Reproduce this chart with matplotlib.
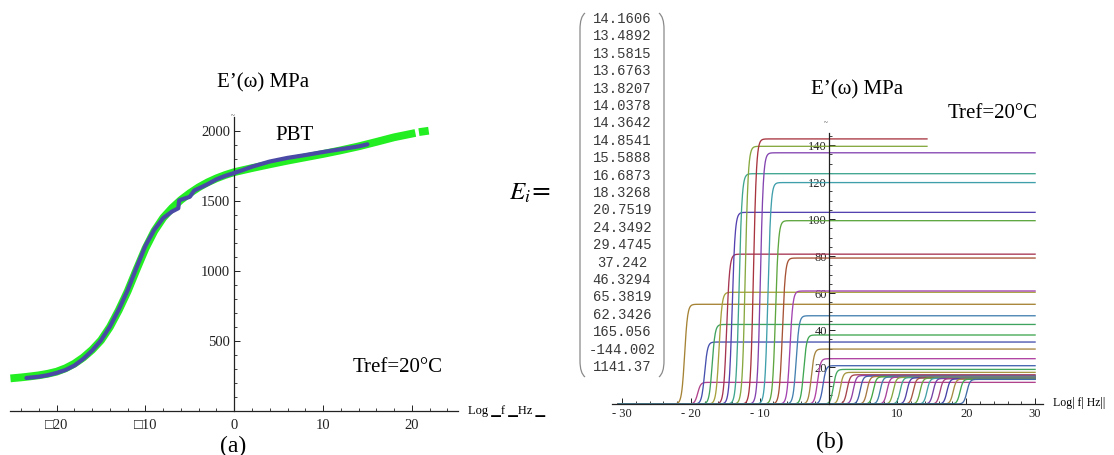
import numpy as np
import matplotlib
matplotlib.use("Agg")
import matplotlib.pyplot as plt
from matplotlib.path import Path
from matplotlib.patches import PathPatch
import colorsys

# ---------------- data: panel (a) ----------------
green_x = [-25.2, -24, -23, -22, -21, -20, -19, -18, -17, -16, -15, -14, -13, -12, -11, -10,
           -9, -8, -7, -6, -5, -4, -3, -2, -1, 0, 2, 4, 6, 8, 10, 12, 14, 16, 18, 20.4,
           np.nan, 20.8, 21.9]
green_y = [233, 240, 247, 255, 266, 281, 305, 338, 382, 437, 505, 600, 720, 855, 1010, 1160,
           1285, 1380, 1450, 1508, 1556, 1598, 1633, 1662, 1686, 1706, 1735, 1762, 1788, 1812,
           1836, 1862, 1890, 1922, 1955, 1986, np.nan, 1992, 2002]

blue_x = [-23.4, -22, -21, -20, -19, -18, -17, -16, -15, -14, -13, -12, -11, -10, -9, -8,
          -7, -6.3, -6.2, -5, -4.5, -4, -3, -2, -1, 0, 1, 2, 4, 6, 8, 10, 12, 14, 15]
blue_y = [236, 245, 256, 272, 293, 325, 372, 432, 505, 603, 725, 862, 1025, 1180, 1295, 1378,
          1425, 1448, 1505, 1530, 1575, 1590, 1620, 1655, 1680, 1700, 1722, 1745, 1782, 1808,
          1828, 1850, 1870, 1890, 1905]

a_xticks = [-20, -10, 0, 10, 20]
a_xlabels = ["\u25a120", "\u25a110", "0", "10", "20"]
a_yticks = [500, 1000, 1500, 2000]
a_ylabels = ["500", "1000", "1500", "2000"]

# ---------------- data: panel (b) ----------------
Ei_values = ["14.1606", "13.4892", "13.5815", "13.6763", "13.8207", "14.0378", "14.3642",
             "14.8541", "15.5888", "16.6873", "18.3268", "20.7519", "24.3492", "29.4745",
             "37.242", "46.3294", "65.3819", "62.3426", "165.056", "-144.002", "1141.37"]

# step position (log f) and plateau height of each term curve
step_pos = [-20.9, -19.0, -18.0, -16.9, -15.9, -14.8, -14.0, -13.0, -12.1, -10.9, -9.9, -8.8,
            -7.7, -6.7, -5.6, -4.7, -3.6, -2.5, -1.6, -0.8,
            0.7, 1.7, 2.7, 3.6, 4.6, 5.6, 6.5, 7.5, 8.5, 9.4, 10.4, 11.4, 12.3, 13.3,
            14.3, 15.2, 16.2, 17.2, 18.1, 19.1, 20.1]
plateau = [53.9, 11.7, 33.5, 43.0, 60.4, 81.0, 103.6, 124.5, 139.3, 143.3, 135.8, 119.7,
           99.1, 78.9, 61.1, 47.7, 37.3, 29.7, 24.5, 20.7,
           18.7, 17.1, 15.8, 15.4, 15.1, 14.9, 14.7, 14.6, 14.5, 14.4, 14.3, 14.2, 14.1, 14.0,
           13.9, 13.8, 13.7, 13.6, 13.5, 13.4, 13.3]
curve_end = [30, 30, 30, 30, 30, 30, 30, 30, 14.3, 14.3, 30, 30,
             30, 30, 30, 30, 30, 30, 30, 30] + [30] * 21

b_xticks = [-30, -20, -10, 10, 20, 30]
b_xlabels = ["- 30", "- 20", "- 10", "10", "20", "30"]
b_yticks = [20, 40, 60, 80, 100, 120, 140]
b_ylabels = ["20", "40", "60", "80", "100", "120", "140"]

# ---------------- styles ----------------
high_colors = ["#a58335", "#b0428c", "#4650ad", "#3fa35f", "#a6a13c", "#a63552", "#5542b0",
               "#3fa58f", "#86a83e", "#a8343f", "#8444b0", "#3f9fab", "#5ea63f", "#a65235",
               "#a343b0", "#4480b0", "#3fa652", "#a68440", "#b042a3", "#4263b0"]
hue_cycle = [0.38, 0.143, 0.983, 0.8, 0.617, 0.09, 0.327, 0.563, 0.853, 0.22, 0.457, 0.693,
             0.037, 0.273, 0.51, 0.747, 0.907, 0.67, 0.12, 0.36, 0.60]
low_colors = [colorsys.hsv_to_rgb(h, 0.6, 0.65) for h in hue_cycle]
colors = high_colors + low_colors

W, H = 1114, 455
fig = plt.figure(figsize=(W / 100, H / 100), dpi=100)
serif = ["Liberation Serif", "DejaVu Serif"]
plt.rcParams['mathtext.fontset'] = 'stix'


def fx(x):
    return x / W


def fy(y):
    return 1 - y / H


def style_axes(ax, fs):
    for s in ("top", "right"):
        ax.spines[s].set_visible(False)
    ax.spines["left"].set_position(("data", 0))
    for s in ("left", "bottom"):
        ax.spines[s].set_linewidth(0.9)
        ax.spines[s].set_color("#222222")
    ax.tick_params(which="major", direction="in", length=4, width=0.7, colors="#222222",
                   labelsize=fs, pad=3)
    ax.tick_params(which="minor", direction="in", length=2, width=0.6, colors="#222222")
    for lab in ax.get_xticklabels() + ax.get_yticklabels():
        lab.set_family(serif)
    ax.patch.set_alpha(0)


# ---------------- panel (a) ----------------
ax1 = fig.add_axes([fx(10), fy(411), 448 / W, (411 - 117) / H])
ax1.set_xlim(-25.25, 25.2)
ax1.set_ylim(0, 2100)
ax1.plot(green_x, green_y, color="#22ee22", lw=5.6, solid_capstyle="butt",
         solid_joinstyle="round", zorder=2)
ax1.plot(blue_x, blue_y, color="#4a4aa6", lw=3.0, solid_capstyle="round",
         solid_joinstyle="round", zorder=3)
ax1.set_xticks(a_xticks)
ax1.set_xticklabels(a_xlabels)
ax1.set_xticks(np.arange(-24, 25, 2), minor=True)
ax1.set_yticks(a_yticks)
ax1.set_yticklabels(a_ylabels)
ax1.set_yticks(np.arange(100, 2100, 100), minor=True)
style_axes(ax1, 10.5)
ax1.tick_params(axis="x", pad=6)
for lab in ax1.get_xticklabels():
    lab.set_family(["Liberation Serif", "DejaVu Sans"])

fig.text(fx(263), fy(83), "E\u2019(\u03c9) MPa", family=serif, fontsize=15, ha="center", va="center")
fig.text(fx(295), fy(135), "PBT", family=serif, fontsize=15, ha="center", va="center")
fig.text(fx(398), fy(367), "Tref=20\u00b0C", family=serif, fontsize=15, ha="center", va="center")
fig.text(fx(233), fy(116), "~", family=serif, fontsize=5, ha="center", va="center")
fig.text(fx(468), fy(411), "Log \u2581f \u2581Hz \u2581", family=["Liberation Serif", "DejaVu Sans"],
         fontsize=9, ha="left", va="center")
fig.text(fx(233), fy(446), "(a)", family=serif, fontsize=17, ha="center", va="center")

# ---------------- matrix ----------------
fig.text(fx(530), fy(193), r"$E_i$=", fontsize=18, ha="center", va="center")
row_y0, row_dy = 19, 17.4
for k, v in enumerate(Ei_values):
    fig.text(fx(622), fy(row_y0 + k * row_dy), v, family="Liberation Mono", fontsize=10,
             color="#3a3a3a", ha="center", va="center")


def paren(xe, xm, y0, y1):
    verts = [(fx(xe), fy(y0)), (fx(xm), fy(y0 + 4)), (fx(xm), fy(y0 + 16)),
             (fx(xm), fy(y1 - 16)),
             (fx(xm), fy(y1 - 16)), (fx(xm), fy(y1 - 4)), (fx(xe), fy(y1))]
    codes = [Path.MOVETO, Path.CURVE3, Path.CURVE3, Path.LINETO, Path.MOVETO, Path.CURVE3, Path.CURVE3]
    fig.add_artist(PathPatch(Path(verts, codes), transform=fig.transFigure, fill=False,
                             edgecolor="#8a8a8a", lw=0.9))


paren(585, 580, 13, 377)
paren(659, 664, 13, 377)

# ---------------- panel (b) ----------------
ax2 = fig.add_axes([fx(612), fy(404), 431 / W, 271 / H])
ax2.set_xlim(-31.45, 31.15)
ax2.set_ylim(0, 146.5)
for c, h, e, col in zip(step_pos, plateau, curve_end, colors):
    xs = np.linspace(-30.5, e, 1500)
    ys = h / (1.0 + 10.0 ** (-2.0 * (xs - c)))
    ax2.plot(xs, ys, color=col, lw=0.95, clip_on=False, zorder=2)
ax2.set_xticks(b_xticks)
ax2.set_xticklabels(b_xlabels)
ax2.set_xticks(np.arange(-30, 31, 2), minor=True)
ax2.set_yticks(b_yticks)
ax2.set_yticklabels(b_ylabels)
ax2.set_yticks(np.arange(5, 146, 5), minor=True)
style_axes(ax2, 9)
ax2.tick_params(axis="y", pad=1)
ax2.tick_params(axis="x", pad=3)

fig.text(fx(857), fy(90), "E\u2019(\u03c9) MPa", family=serif, fontsize=15, ha="center", va="center")
fig.text(fx(993), fy(113), "Tref=20\u00b0C", family=serif, fontsize=15, ha="center", va="center")
fig.text(fx(826), fy(123), "~", family=serif, fontsize=5, ha="center", va="center")
fig.text(fx(1053), fy(403), "Log| f| Hz||", family=serif, fontsize=8.5, ha="left", va="center")
fig.text(fx(830), fy(442), "(b)", family=serif, fontsize=17, ha="center", va="center")

fig.savefig("out.png", dpi=100)
